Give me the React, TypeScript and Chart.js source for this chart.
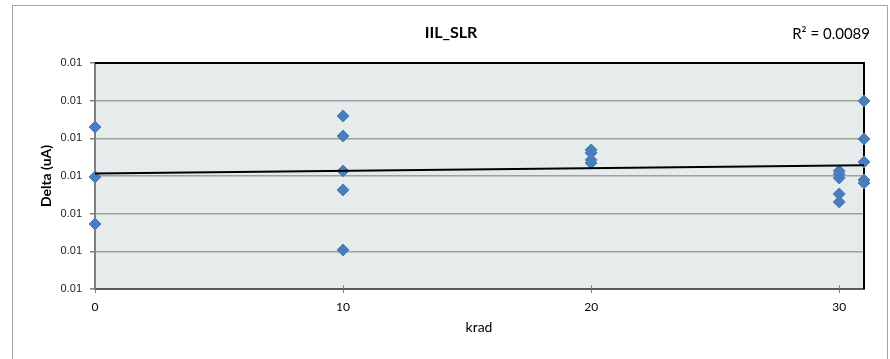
import React, { useEffect, useRef } from "react";
import { Chart, registerables } from "chart.js";

Chart.register(...registerables);

const chartTitle = "IIL_SLR";
const r2Label = "R\u00B2 = 0.0089";
const xTitle = "krad";
const yTitle = "Delta (uA)";

const xTicks = [0, 10, 20, 30];
const yTicks = [0.006, 0.0065, 0.007, 0.0075, 0.008, 0.0085, 0.009];

const krad = [0, 0, 0, 10, 10, 10, 10, 10, 20, 20, 20, 20, 30, 30, 30, 30, 30, 31, 31, 31, 31, 31];
const delta = [
  0.00815, 0.007487, 0.006863,
  0.008297, 0.008031, 0.007567, 0.007315, 0.006518,
  0.007846, 0.007806, 0.007713, 0.007673,
  0.007567, 0.007527, 0.007474, 0.007262, 0.007156,
  0.008496, 0.007992, 0.007686, 0.007447, 0.007407,
];

function regression(xs: number[], ys: number[]) {
  const n = xs.length;
  const mx = xs.reduce((a, b) => a + b, 0) / n;
  const my = ys.reduce((a, b) => a + b, 0) / n;
  let sxy = 0, sxx = 0;
  for (let i = 0; i < n; i++) {
    sxy += (xs[i] - mx) * (ys[i] - my);
    sxx += (xs[i] - mx) ** 2;
  }
  const slope = sxy / sxx;
  return { slope, intercept: my - slope * mx };
}

export default function App() {
  const ref = useRef<HTMLCanvasElement>(null);
  useEffect(() => {
    document.body.style.margin = "0";
    const reg = regression(krad, delta);
    const xMin = 0, xMax = 31;
    const trend = [
      { x: xMin, y: reg.intercept + reg.slope * xMin },
      { x: xMax, y: reg.intercept + reg.slope * xMax },
    ];
    const points = krad.map((x, i) => ({ x, y: delta[i] }));

    const deco = {
      id: "deco",
      beforeDraw(chart: any) {
        const { ctx, chartArea: a } = chart;
        ctx.save();
        ctx.fillStyle = "#ffffff";
        ctx.fillRect(0, 0, chart.width, chart.height);
        ctx.strokeStyle = "#a6a6a6";
        ctx.lineWidth = 1;
        ctx.strokeRect(12.5, 5.5, 875, 400);
        ctx.fillStyle = "#e6ecec";
        ctx.fillRect(a.left, a.top, a.right - a.left, a.bottom - a.top);
        ctx.restore();
      },
      beforeDatasetsDraw(chart: any) {
        const { ctx, chartArea: a } = chart;
        const xs = chart.scales.x;
        ctx.save();
        ctx.strokeStyle = "#000000";
        ctx.lineWidth = 2;
        ctx.beginPath();
        ctx.moveTo(a.left, a.top);
        ctx.lineTo(a.right, a.top);
        ctx.lineTo(a.right, a.bottom);
        ctx.stroke();
        ctx.strokeStyle = "#808080";
        ctx.lineWidth = 1;
        xTicks.forEach((v) => {
          const px = Math.round(xs.getPixelForValue(v)) + 0.5;
          ctx.beginPath();
          ctx.moveTo(px, a.bottom - 4);
          ctx.lineTo(px, a.bottom);
          ctx.stroke();
        });
        ctx.restore();
      },
      afterDraw(chart: any) {
        const { ctx } = chart;
        ctx.save();
        ctx.fillStyle = "#000000";
        ctx.textAlign = "center";
        ctx.textBaseline = "middle";
        ctx.font = "bold 16px Lato";
        ctx.fillText(chartTitle, 451, 33);
        ctx.font = "15px Lato";
        ctx.textAlign = "right";
        ctx.fillText(r2Label, 870, 34);
        ctx.textAlign = "center";
        ctx.font = "14px Lato";
        ctx.fillText(xTitle, 479, 327);
        ctx.translate(46, 176);
        ctx.rotate(-Math.PI / 2);
        ctx.font = "bold 14px Lato";
        ctx.fillText(yTitle, 0, 0);
        ctx.restore();
      },
    };

    const chart = new Chart(ref.current!, {
      type: "scatter",
      data: {
        datasets: [
          {
            type: "line",
            data: trend,
            borderColor: "#000000",
            borderWidth: 2,
            pointRadius: 0,
            fill: false,
            clip: false,
            order: 0,
          } as any,
          {
            data: points,
            pointStyle: "rectRot",
            pointRadius: 6,
            pointBackgroundColor: "#4a7ebb",
            pointBorderColor: "#4a7ebb",
            pointBorderWidth: 1,
            clip: false,
            order: 1,
          },
        ],
      },
      options: {
        animation: false,
        responsive: false,
        events: [],
        layout: { padding: { left: 0, top: 63, right: 26, bottom: 0 } },
        plugins: { legend: { display: false }, tooltip: { enabled: false }, title: { display: false } },
        scales: {
          x: {
            type: "linear",
            min: xMin,
            max: xMax,
            afterFit: (s: any) => { s.height = 70; },
            afterBuildTicks: (s: any) => { s.ticks = xTicks.map((v) => ({ value: v })); },
            grid: { drawOnChartArea: false, tickLength: 4, color: "#808080" },
            border: { color: "#5a5a5a", width: 2 },
            ticks: { color: "#000000", font: { family: "Lato", size: 12 }, padding: 7 },
          },
          y: {
            type: "linear",
            min: 0.006,
            max: 0.009,
            afterFit: (s: any) => { s.width = 95; },
            afterBuildTicks: (s: any) => { s.ticks = yTicks.map((v) => ({ value: v })); },
            grid: { color: "#a0a0a0", lineWidth: 1.5, tickLength: 5, tickColor: "#808080" },
            border: { color: "#808080", width: 2 },
            ticks: {
              color: "#222222",
              font: { family: "Liberation Sans", size: 11 },
              padding: 8,
              callback: (v: any) => Number(v).toFixed(2),
            },
          },
        },
      } as any,
      plugins: [deco],
    });
    return () => chart.destroy();
  }, []);
  return <canvas ref={ref} width={890} height={359} style={{ display: "block" }} />;
}
